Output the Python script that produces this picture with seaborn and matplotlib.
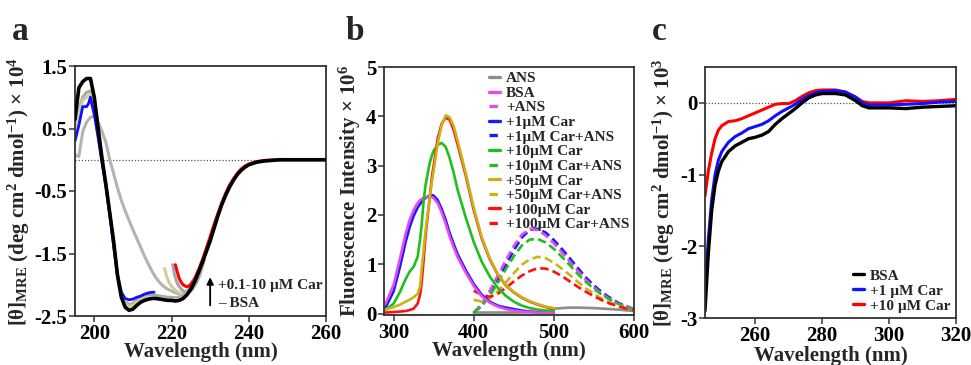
import numpy as np
import pandas as pd
import matplotlib
matplotlib.use("Agg")
import matplotlib.pyplot as plt
from matplotlib.lines import Line2D
import seaborn as sns

# ---------------- Panel a data (CD far-UV) ----------------
a_bsa_wl = [195, 196, 197, 198, 199, 200, 201, 202, 203, 204, 205, 206, 207, 208, 209, 210,
            211, 212, 213, 214, 215, 216, 217, 218, 219, 220, 221, 222, 223, 224, 225, 226,
            227, 228, 229, 230, 231, 232, 233, 234, 235, 236, 237, 238, 239, 240, 242, 244,
            246, 248, 250, 255, 260]
a_bsa_val = [0.65, 1.15, 1.25, 1.3, 1.3, 1.0, 0.5, 0.02, -0.4, -0.85, -1.3, -1.85, -2.2, -2.36,
             -2.41, -2.39, -2.33, -2.28, -2.25, -2.23, -2.22, -2.22, -2.23, -2.24, -2.25, -2.25,
             -2.26, -2.25, -2.22, -2.16, -2.07, -1.95, -1.8, -1.64, -1.47, -1.3, -1.1, -0.9,
             -0.72, -0.57, -0.44, -0.33, -0.24, -0.17, -0.12, -0.08, -0.04, -0.02, -0.01, 0.0,
             0.0, 0.0, 0.0]

a_blue_wl = [195, 196, 197, 198, 198.5, 199, 199.5, 200, 201, 202, 203, 204, 205, 206, 207, 208,
             209, 210, 211, 212, 213, 214, 215, 215.5]
a_blue_val = [0.3, 0.55, 0.85, 0.85, 0.9, 1.0, 0.85, 0.72, 0.35, -0.05, -0.42, -0.88, -1.38, -1.85,
              -2.12, -2.22, -2.24, -2.23, -2.2, -2.18, -2.15, -2.13, -2.12, -2.12]

a_lgray_wl = [195, 196, 197, 198, 199, 200, 201, 202, 203, 204, 205, 206, 207, 208, 209, 210, 211,
              212, 213, 214, 215, 216, 217, 218, 219, 220, 221, 222, 223, 224, 225, 226]
a_lgray_val = [0.08, 0.05, 0.45, 0.6, 0.68, 0.7, 0.6, 0.45, 0.28, 0.0, -0.22, -0.45, -0.65, -0.82,
               -0.97, -1.12, -1.26, -1.4, -1.54, -1.67, -1.79, -1.89, -1.97, -2.03, -2.07, -2.1,
               -2.13, -2.15, -2.15, -2.1, -2.02, -1.93]

a_mgray_wl = [195, 196, 197, 198, 199, 200, 201, 202, 203, 204, 205, 206, 207, 208, 209, 210, 211,
              212, 213, 214, 215, 216, 217, 218, 219, 220, 221, 222, 223, 224, 225, 226]
a_mgray_val = [0.5, 0.8, 1.0, 1.08, 1.1, 0.85, 0.4, -0.02, -0.38, -0.85, -1.35, -1.82, -2.12, -2.27,
               -2.32, -2.3, -2.25, -2.2, -2.17, -2.16, -2.16, -2.17, -2.18, -2.19, -2.2, -2.2,
               -2.21, -2.2, -2.18, -2.12, -2.04, -1.93]

a_khaki_wl = [195, 196, 197, 198, 199, 200, 201, 202, 203, 204, 205, 206, 207, 208, 209, 210, 211,
              212, 213, 214, 215, 216, 217, 218, 219, 220, 221, 222, 223, 224, 225, 226]
a_khaki_val = [0.45, 0.75, 0.95, 1.0, 1.05, 0.8, 0.4, -0.02, -0.4, -0.86, -1.36, -1.84, -2.15, -2.3,
               -2.35, -2.33, -2.28, -2.24, -2.22, -2.21, -2.21, -2.22, -2.23, -2.23, -2.24, -2.24,
               -2.24, -2.23, -2.2, -2.14, -2.05, -1.94]

a_khseg_wl = [218.2, 218.8, 219.5, 220.5, 221.5, 222.5, 223.5, 224.5, 225.5, 226.5, 227.5]
a_khseg_val = [-1.74, -1.88, -1.98, -2.06, -2.11, -2.14, -2.15, -2.13, -2.07, -1.97, -1.82]

a_gseg_wl = [220.3, 220.8, 221.5, 222.5, 223.5, 224.5, 225.5, 226.5, 227.5, 228.5]
a_gseg_val = [-1.68, -1.85, -1.98, -2.07, -2.12, -2.12, -2.06, -1.95, -1.8, -1.6]

a_red_wl = [221, 221.5, 222, 222.5, 223, 223.5, 224, 224.5, 225, 226, 227, 228, 229, 230, 231, 232,
            233, 234, 235, 236, 237, 238, 239, 240, 242, 244, 248, 260]
a_red_val = [-1.68, -1.8, -1.9, -1.96, -2.0, -2.02, -2.03, -2.02, -1.99, -1.9, -1.76, -1.6, -1.42,
             -1.23, -1.04, -0.86, -0.69, -0.54, -0.41, -0.31, -0.22, -0.15, -0.1, -0.07, -0.03,
             -0.01, 0.0, 0.0]

# ---------------- Panel b data (fluorescence) ----------------
b_solid_wl = [290, 300, 308, 315, 320, 325, 330, 333, 335, 337.5, 340, 345, 348, 350, 355, 360, 365,
              370, 375, 380, 390, 400, 410, 420, 430, 440, 450, 460, 470, 480, 490, 500]
b_bsa = [0.2, 0.58, 1.12, 1.62, 1.9, 2.1, 2.24, 2.3, 2.32, 2.35, 2.36, 2.37, 2.36, 2.34, 2.24,
         2.05, 1.82, 1.56, 1.34, 1.14, 0.83, 0.56, 0.35, 0.22, 0.14, 0.09, 0.06, 0.04, 0.03, 0.02,
         0.02, 0.02]
b_car1 = [0.12, 0.45, 0.95, 1.45, 1.75, 1.98, 2.15, 2.22, 2.27, 2.31, 2.35, 2.39, 2.4, 2.39, 2.3,
          2.12, 1.9, 1.63, 1.41, 1.2, 0.88, 0.6, 0.38, 0.24, 0.16, 0.12, 0.09, 0.06, 0.04, 0.03,
          0.03, 0.02]
b_car10 = [0.08, 0.2, 0.44, 0.7, 0.85, 0.95, 1.15, 1.5, 1.8, 2.3, 2.62, 3.05, 3.22, 3.3, 3.42,
           3.46, 3.38, 3.15, 2.85, 2.5, 1.95, 1.45, 1.05, 0.75, 0.52, 0.36, 0.24, 0.16, 0.11, 0.08,
           0.06, 0.05]
b_car50 = [0.08, 0.13, 0.18, 0.24, 0.28, 0.33, 0.4, 0.55, 0.9, 1.3, 1.7, 2.35, 2.7, 2.9, 3.45,
           3.82, 4.02, 3.98, 3.8, 3.5, 2.85, 2.15, 1.55, 1.12, 0.8, 0.58, 0.44, 0.33, 0.25, 0.19,
           0.14, 0.11]
b_car100 = [0.02, 0.03, 0.04, 0.05, 0.07, 0.1, 0.2, 0.38, 0.62, 1.1, 1.6, 2.35, 2.8, 3.0, 3.55,
            3.85, 3.97, 3.93, 3.72, 3.42, 2.8, 2.1, 1.52, 1.1, 0.79, 0.57, 0.43, 0.32, 0.24, 0.18,
            0.13, 0.1]

b_ans_wl = [400, 450, 490, 500, 510, 520, 530, 550, 580, 600]
b_ans = [0.02, 0.02, 0.03, 0.1, 0.11, 0.12, 0.12, 0.11, 0.08, 0.05]

b_dash_wl = [400, 410, 420, 430, 440, 450, 460, 470, 480, 490, 500, 510, 520, 530, 540, 550,
             560, 570, 580, 590, 600]
b_bsa_ans = [0.02, 0.2, 0.46, 0.77, 1.08, 1.37, 1.6, 1.72, 1.69, 1.58, 1.42, 1.24, 1.05, 0.86,
             0.68, 0.53, 0.4, 0.29, 0.2, 0.14, 0.08]
b_car1_ans = [0.02, 0.16, 0.39, 0.68, 0.98, 1.28, 1.54, 1.7, 1.72, 1.64, 1.49, 1.31, 1.12, 0.92,
              0.73, 0.57, 0.43, 0.32, 0.22, 0.15, 0.09]
b_car10_ans = [0.02, 0.15, 0.36, 0.62, 0.9, 1.16, 1.38, 1.5, 1.51, 1.44, 1.31, 1.15, 0.98, 0.8,
               0.64, 0.5, 0.38, 0.28, 0.2, 0.13, 0.08]
b_car50_ans = [0.28, 0.24, 0.3, 0.45, 0.63, 0.82, 0.99, 1.1, 1.15, 1.12, 1.03, 0.91, 0.78, 0.64,
               0.51, 0.4, 0.3, 0.22, 0.16, 0.11, 0.07]
b_car100_ans = [0.46, 0.38, 0.34, 0.4, 0.52, 0.65, 0.77, 0.86, 0.92, 0.91, 0.85, 0.76, 0.65, 0.54,
                0.44, 0.35, 0.27, 0.2, 0.15, 0.1, 0.07]

# ---------------- Panel c data (CD near-UV) ----------------
c_wl = [245, 246, 247, 248, 249, 250, 252, 254, 256, 258, 260, 262, 264, 266, 268, 270, 272, 274,
        276, 278, 280, 284, 287, 290, 292, 294, 300, 305, 310, 315, 320]
c_bsa = [-2.9, -2.1, -1.5, -1.15, -0.95, -0.82, -0.68, -0.6, -0.55, -0.5, -0.48, -0.45, -0.4,
         -0.3, -0.22, -0.15, -0.08, 0.0, 0.07, 0.11, 0.13, 0.13, 0.11, 0.03, -0.04, -0.07, -0.07,
         -0.08, -0.06, -0.05, -0.04]
c_car1 = [-2.6, -1.9, -1.35, -1.0, -0.8, -0.68, -0.55, -0.47, -0.42, -0.36, -0.33, -0.3, -0.25,
          -0.18, -0.12, -0.07, -0.02, 0.05, 0.1, 0.14, 0.16, 0.17, 0.15, 0.08, 0.0, -0.03, -0.03,
          -0.02, -0.01, 0.01, 0.02]
c_car10 = [-1.3, -0.95, -0.7, -0.5, -0.38, -0.32, -0.26, -0.25, -0.22, -0.18, -0.14, -0.1, -0.06,
           -0.02, -0.01, -0.01, 0.03, 0.09, 0.14, 0.17, 0.18, 0.18, 0.15, 0.08, 0.02, 0.0, 0.0,
           0.03, 0.02, 0.03, 0.05]

# ---------------- Style ----------------
sns.set_theme(style="ticks")
plt.rcParams["font.family"] = ["Liberation Serif", "DejaVu Serif"]
plt.rcParams["font.weight"] = "bold"
plt.rcParams["axes.labelweight"] = "bold"
plt.rcParams["mathtext.fontset"] = "custom"
plt.rcParams["mathtext.rm"] = "Liberation Serif:bold"
plt.rcParams["mathtext.bf"] = "Liberation Serif:bold"
plt.rcParams["mathtext.it"] = "Liberation Serif:bold:italic"
plt.rcParams["axes.unicode_minus"] = False

TICK_FS = 15
LABEL_FS = 15

fig = plt.figure(figsize=(9.71, 3.65), dpi=100)
W, H = 971, 365
axA = fig.add_axes([75 / W, 49 / H, 251 / W, 250 / H])
axB = fig.add_axes([384 / W, 50 / H, 250 / W, 248 / H])
axC = fig.add_axes([705 / W, 47 / H, 251 / W, 251 / H])


def style_axes(ax):
    for s in ax.spines.values():
        s.set_color("#333333")
        s.set_linewidth(1.3)
        s.set_visible(True)
    ax.tick_params(direction="out", length=4, width=1.1, colors="#333333",
                   labelcolor="black", labelsize=TICK_FS, pad=1.5)
    for lab in ax.get_xticklabels() + ax.get_yticklabels():
        lab.set_fontweight("bold")


def line(ax, x, y, color, lw=2.0, ls="-", z=2):
    sns.lineplot(x=x, y=y, ax=ax, color=color, linewidth=lw, linestyle=ls,
                 zorder=z, legend=False)


LEG_PROP = {"family": "Liberation Serif", "weight": "bold", "size": 11}

# ---------------- Panel a ----------------
axA.axhline(0, color="#555555", lw=0.9, ls=(0, (1, 1.5)), zorder=1)
line(axA, a_lgray_wl, a_lgray_val, "#b3b3b3", 2.2)
line(axA, a_khseg_wl, a_khseg_val, "#cfcf96", 2.2)
line(axA, a_gseg_wl, a_gseg_val, "#a3a3b3", 2.2)
line(axA, a_red_wl, a_red_val, "#ff0000", 2.2, z=3)
line(axA, a_mgray_wl, a_mgray_val, "#a8a8a8", 2.2)
line(axA, a_khaki_wl, a_khaki_val, "#cfcf96", 2.2)
line(axA, a_blue_wl, a_blue_val, "#1010ff", 2.0)
line(axA, a_bsa_wl, a_bsa_val, "#000000", 2.6, z=4)
axA.set_xlim(195, 260)
axA.set_ylim(-2.5, 1.5)
axA.set_xticks([200, 220, 240, 260])
axA.set_yticks([1.5, 0.5, -0.5, -1.5, -2.5])
axA.set_xlabel("Wavelength (nm)", fontsize=LABEL_FS, fontweight="bold", labelpad=-1)
axA.set_ylabel(r"[θ]$_{\mathrm{MRE}}$ (deg cm$^{2}$ dmol$^{-1}$) × 10$^{4}$",
               fontsize=LABEL_FS, fontweight="bold", labelpad=2)
axA.annotate("", xy=(230.0, -1.88), xytext=(230.0, -2.33),
             arrowprops=dict(arrowstyle="-|>", color="black", lw=1.3,
                             mutation_scale=10, shrinkA=0, shrinkB=0))
axA.text(232.0, -2.02, "+0.1-10 µM Car", fontsize=11, fontweight="bold", ha="left",
         va="center")
axA.text(232.0, -2.3, "– BSA", fontsize=11, fontweight="bold", ha="left", va="center")
style_axes(axA)

# ---------------- Panel b ----------------
axB.axhline(0, color="#555555", lw=0.9, ls=(0, (1, 1.5)), zorder=1)
b_specs = [
    ("ANS", b_ans_wl, b_ans, "#8c8c8c", "-"),
    ("BSA", b_solid_wl, b_bsa, "#e84ae8", "-"),
    ("+ANS", b_dash_wl, b_bsa_ans, "#e84ae8", "--"),
    ("+1µM Car", b_solid_wl, b_car1, "#1a1aff", "-"),
    ("+1µM Car+ANS", b_dash_wl, b_car1_ans, "#1a1aff", "--"),
    ("+10µM Car", b_solid_wl, b_car10, "#1fbf1f", "-"),
    ("+10µM Car+ANS", b_dash_wl, b_car10_ans, "#1fbf1f", "--"),
    ("+50µM Car", b_solid_wl, b_car50, "#c8b418", "-"),
    ("+50µM Car+ANS", b_dash_wl, b_car50_ans, "#c8b418", "--"),
    ("+100µM Car", b_solid_wl, b_car100, "#ff1010", "-"),
    ("+100µM Car+ANS", b_dash_wl, b_car100_ans, "#ff1010", "--"),
]
order_draw = [0, 4, 2, 6, 8, 10, 3, 1, 5, 9, 7]
for i in order_draw:
    lab, x, y, c, ls = b_specs[i]
    line(axB, x, y, c, 1.9, ls=(0, (3.2, 1.6)) if ls == "--" else "-")
handles = [Line2D([0], [0], color=c, lw=2.4, ls=(0, (2.5, 1.5)) if ls == "--" else "-")
           for lab, x, y, c, ls in b_specs]
labels = [s[0] for s in b_specs]
axB.legend(handles, labels, loc="upper right", bbox_to_anchor=(1.0, 1.0), frameon=False,
           prop=LEG_PROP, handlelength=0.7, handletextpad=0.4, labelspacing=0.06,
           borderaxespad=0.1, borderpad=0.2)
axB.set_xlim(288, 600)
axB.set_ylim(-0.03, 5)
axB.set_xticks([300, 400, 500, 600])
axB.set_yticks([0, 1, 2, 3, 4, 5])
axB.set_xlabel("Wavelength (nm)", fontsize=LABEL_FS, fontweight="bold", labelpad=-1)
axB.set_ylabel(r"Fluorescence Intensity × 10$^{6}$", fontsize=LABEL_FS, fontweight="bold",
               labelpad=2)
style_axes(axB)

# ---------------- Panel c ----------------
axC.axhline(0, color="#555555", lw=0.9, ls=(0, (1, 1.5)), zorder=1)
line(axC, c_wl, c_car10, "#ff0000", 2.2)
line(axC, c_wl, c_car1, "#1010ff", 2.2)
line(axC, c_wl, c_bsa, "#000000", 2.4)
hc = [Line2D([0], [0], color=c, lw=2.4) for c in ["#000000", "#1010ff", "#ff0000"]]
axC.legend(hc, ["BSA", "+1 µM Car", "+10 µM Car"], loc="lower right",
           bbox_to_anchor=(1.0, 0.0), frameon=False, prop=LEG_PROP,
           handlelength=0.7, handletextpad=0.4, labelspacing=0.08, borderaxespad=0.1,
           borderpad=0.25)
axC.set_xlim(245, 320)
axC.set_ylim(-3, 0.5)
axC.set_xticks([260, 280, 300, 320])
axC.set_yticks([0, -1, -2, -3])
axC.set_xlabel("Wavelength (nm)", fontsize=LABEL_FS, fontweight="bold", labelpad=0)
axC.set_ylabel(r"[θ]$_{\mathrm{MRE}}$ (deg cm$^{2}$ dmol$^{-1}$) × 10$^{3}$",
               fontsize=LABEL_FS, fontweight="bold", labelpad=2)
style_axes(axC)

# Panel letters
for xpx, letter in [(12, "a"), (346, "b"), (652, "c")]:
    fig.text(xpx / W, 1 - 40 / H, letter, fontsize=24, fontweight="bold", ha="left",
             va="baseline")

fig.savefig("out.png", dpi=100)
